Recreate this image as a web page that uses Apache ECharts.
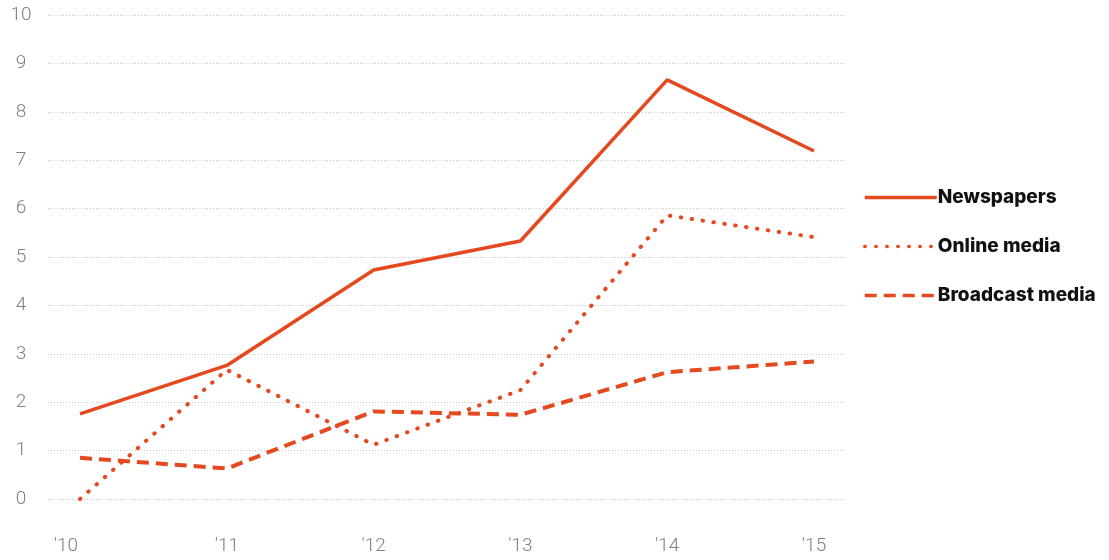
<!DOCTYPE html>
<html><head><meta charset="utf-8">
<script src="https://cdn.jsdelivr.net/npm/echarts@6/dist/echarts.min.js"></script>
<style>html,body{margin:0;padding:0;background:#fff}#c{width:1109px;height:560px}</style>
</head><body><div id="c"></div>
<script>
var years = ["'10", "'11", "'12", "'13", "'14", "'15"];
var newspapers = [1.76, 2.76, 4.73, 5.33, 8.66, 7.19];
var online = [0.0, 2.67, 1.12, 2.25, 5.86, 5.41];
var broadcast = [0.85, 0.63, 1.81, 1.74, 2.62, 2.84];
var yTicks = [0,1,2,3,4,5,6,7,8,9,10];

var RED = '#e4491f';
function pts(arr){ return arr.map(function(v,i){ return [i, v]; }); }

var chart = echarts.init(document.getElementById('c'));
chart.setOption({
  animation: false,
  grid: { left: 48, right: 264, top: 15, bottom: 61 },
  xAxis: {
    type: 'value', min: -0.218, max: 5.211,
    axisLine: { show: false }, axisTick: { show: false }, splitLine: { show: false },
    axisLabel: {
      customValues: [0,1,2,3,4,5],
      margin: 38,
      color: '#808080', fontSize: 19, fontFamily: 'Roboto', fontWeight: 300,
      formatter: function(v){ var i = Math.round(v); return i === 0 ? '{f|' + years[i] + '}' : years[i]; },
      rich: { f: { color: '#808080', fontSize: 19, fontFamily: 'Roboto', fontWeight: 300, padding: [0, 28, 0, 0] } }
    }
  },
  yAxis: {
    type: 'value', min: 0, max: 10, interval: 1,
    axisLine: { show: false }, axisTick: { show: false },
    axisLabel: { margin: 27, color: '#808080', fontSize: 19, fontFamily: 'Roboto', fontWeight: 300, align: 'center',
      formatter: function(v){ return yTicks.indexOf(v) >= 0 ? String(v) : ''; } },
    splitLine: { show: true, lineStyle: { color: '#c8c8c8', type: [1, 2], width: 1 } }
  },
  legend: {
    orient: 'vertical', left: 858, top: 183, itemGap: 30, itemWidth: 72, itemHeight: 22,
    itemStyle: { opacity: 0 },
    lineStyle: { width: 3.5 },
    textStyle: { color: '#111', fontSize: 19, fontWeight: 800, fontFamily: 'Inter', padding: [0,0,0,-4] },
    data: ['Newspapers', 'Online media', 'Broadcast media']
  },
  series: [
    { name: 'Newspapers', type: 'line', data: pts(newspapers), symbol: 'none',
      lineStyle: { color: RED, width: 3.5 }, itemStyle: { color: RED } },
    { name: 'Online media', type: 'line', data: pts(online), symbol: 'none',
      lineStyle: { color: RED, width: 4, type: [0.5, 10.5], cap: 'round' }, itemStyle: { color: RED } },
    { name: 'Broadcast media', type: 'line', data: pts(broadcast), symbol: 'none',
      lineStyle: { color: RED, width: 4, type: [12, 7] }, itemStyle: { color: RED } }
  ]
});
</script></body></html>
